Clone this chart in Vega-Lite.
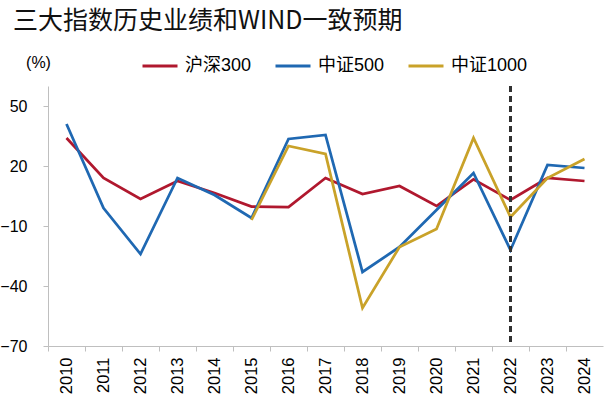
{
  "$schema": "https://vega.github.io/schema/vega-lite/v6.json",
  "autosize": {"type": "none"},
  "width": 555,
  "height": 260,
  "padding": {"left": 48, "top": 86, "right": 1, "bottom": 52},
  "background": "white",
  "config": {
    "view": {"stroke": null},
    "font": "Liberation Sans, Noto Sans CJK SC",
    "title": {"font": "Noto Sans CJK SC, Liberation Sans", "fontSize": 25, "fontWeight": "normal", "color": "#111111"}
  },
  "title": {
    "text": "三大指数历史业绩和WIND一致预期",
    "anchor": "start",
    "frame": "group",
    "dx": -35,
    "offset": 13
  },
  "data": {
    "values": [
      {"year": "2010", "series": "沪深300", "value": 34},
      {"year": "2011", "series": "沪深300", "value": 14},
      {"year": "2012", "series": "沪深300", "value": 3.5},
      {"year": "2013", "series": "沪深300", "value": 12.5},
      {"year": "2014", "series": "沪深300", "value": 6.5},
      {"year": "2015", "series": "沪深300", "value": -0.3},
      {"year": "2016", "series": "沪深300", "value": -0.5},
      {"year": "2017", "series": "沪深300", "value": 14},
      {"year": "2018", "series": "沪深300", "value": 6},
      {"year": "2019", "series": "沪深300", "value": 10},
      {"year": "2020", "series": "沪深300", "value": 0},
      {"year": "2021", "series": "沪深300", "value": 13.3},
      {"year": "2022", "series": "沪深300", "value": 3},
      {"year": "2023", "series": "沪深300", "value": 14},
      {"year": "2024", "series": "沪深300", "value": 12.5},
      {"year": "2010", "series": "中证500", "value": 41},
      {"year": "2011", "series": "中证500", "value": -1},
      {"year": "2012", "series": "中证500", "value": -24},
      {"year": "2013", "series": "中证500", "value": 14},
      {"year": "2014", "series": "中证500", "value": 5.5},
      {"year": "2015", "series": "中证500", "value": -6},
      {"year": "2016", "series": "中证500", "value": 33.5},
      {"year": "2017", "series": "中证500", "value": 35.5},
      {"year": "2018", "series": "中证500", "value": -33},
      {"year": "2019", "series": "中证500", "value": -20.5},
      {"year": "2020", "series": "中证500", "value": -2},
      {"year": "2021", "series": "中证500", "value": 16.5},
      {"year": "2022", "series": "中证500", "value": -22},
      {"year": "2023", "series": "中证500", "value": 20.5},
      {"year": "2024", "series": "中证500", "value": 19},
      {"year": "2015", "series": "中证1000", "value": -7},
      {"year": "2016", "series": "中证1000", "value": 30},
      {"year": "2017", "series": "中证1000", "value": 26},
      {"year": "2018", "series": "中证1000", "value": -51},
      {"year": "2019", "series": "中证1000", "value": -20.5},
      {"year": "2020", "series": "中证1000", "value": -11.5},
      {"year": "2021", "series": "中证1000", "value": 34},
      {"year": "2022", "series": "中证1000", "value": -5.5},
      {"year": "2023", "series": "中证1000", "value": 14},
      {"year": "2024", "series": "中证1000", "value": 23.5}
    ]
  },
  "layer": [
    {
      "mark": {"type": "line", "strokeWidth": 2.75, "strokeJoin": "miter"},
      "encoding": {
        "x": {
          "field": "year",
          "type": "ordinal",
          "scale": {"type": "band", "paddingInner": 0, "paddingOuter": 0},
          "bandPosition": 0.5,
          "axis": {
            "title": null,
            "bandPosition": 0,
            "labelAngle": -90,
            "labelAlign": "right",
            "labelBaseline": "middle",
            "labelFontSize": 16.5,
            "labelColor": "#000000",
            "labelPadding": 6,
            "tickSize": 5,
            "tickColor": "#BFBFBF",
            "domainColor": "#BFBFBF",
            "grid": false
          }
        },
        "y": {
          "field": "value",
          "type": "quantitative",
          "scale": {"domain": [-70, 60], "nice": false, "zero": false},
          "axis": {
            "title": "(%)",
            "titleAngle": 0,
            "titleX": -10,
            "titleY": -24,
            "titleAlign": "center",
            "titleBaseline": "middle",
            "titleFontSize": 16,
            "titleFontWeight": "normal",
            "titleColor": "#000000",
            "values": [-70, -40, -10, 20, 50],
            "labelFontSize": 16,
            "labelColor": "#000000",
            "labelPadding": 16,
            "tickSize": 5,
            "tickColor": "#BFBFBF",
            "domainColor": "#BFBFBF",
            "grid": false
          }
        },
        "color": {
          "field": "series",
          "type": "nominal",
          "scale": {"domain": ["沪深300", "中证500", "中证1000"], "range": ["#B0182E", "#1F68B2", "#C9A229"]},
          "legend": {
            "title": null,
            "orient": "none",
            "direction": "horizontal",
            "legendX": 93,
            "legendY": -39,
            "symbolType": "stroke",
            "symbolSize": 1225,
            "symbolStrokeWidth": 3,
            "labelFontSize": 18,
            "labelColor": "#000000",
            "labelOffset": 6,
            "columnPadding": 17,
            "padding": 0
          }
        }
      }
    },
    {
      "mark": {"type": "rule", "color": "#333333", "strokeWidth": 1.5, "strokeDash": [6, 4]},
      "encoding": {
        "x": {"datum": "2022", "type": "ordinal", "bandPosition": 0.5}
      }
    }
  ]
}
